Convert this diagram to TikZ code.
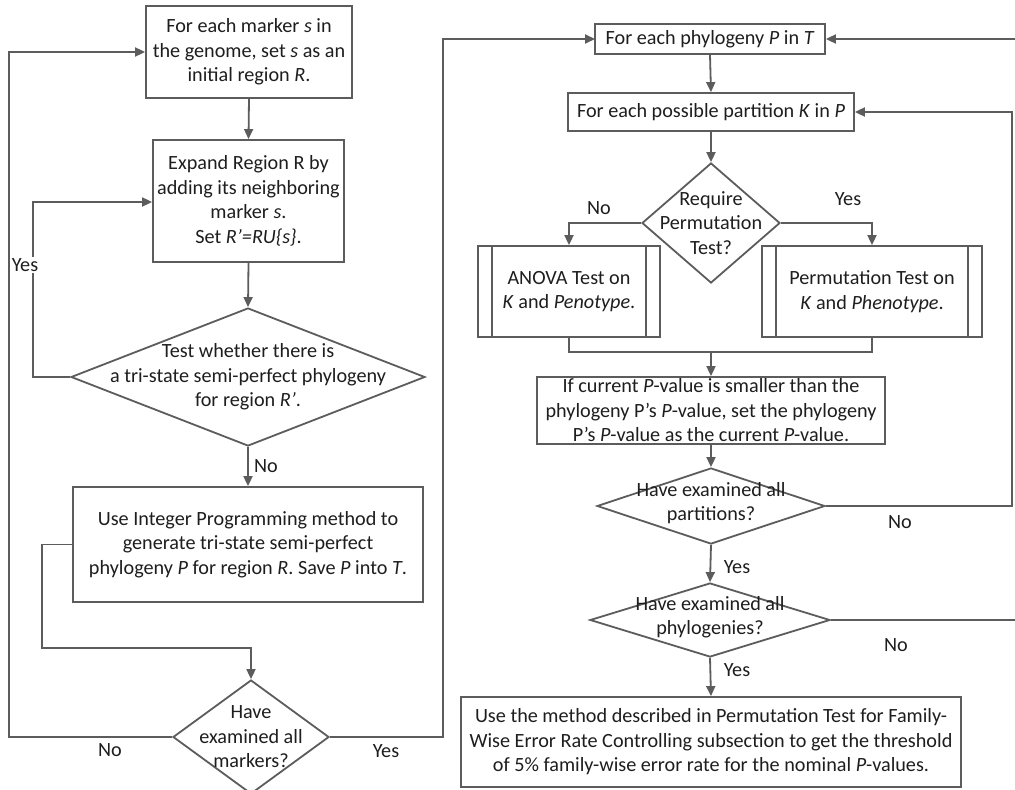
\documentclass[tikz,border=0pt]{standalone}
\usepackage{fontspec}
\setmainfont{Carlito}
\usetikzlibrary{arrows.meta,shapes.geometric,calc}
\definecolor{ln}{HTML}{5C5C5C}
\definecolor{tx}{HTML}{1E1E1E}
\begin{document}
\begin{tikzpicture}[x=1pt,y=-1pt,
  every node/.style={font=\fontsize{20.2}{24.5}\selectfont, text=tx},
  box/.style={draw=ln, line width=1.8pt, rectangle, inner sep=0pt, align=center},
  dia/.style={draw=ln, line width=1.8pt, diamond, inner sep=0pt},
  dtext/.style={inner sep=0pt, align=center},
  lab/.style={inner sep=1pt},
  conn/.style={draw=ln, line width=1.8pt},
  arr/.style={conn, -{Triangle[length=10pt,width=9pt]}}
]
\useasboundingbox (0,0) rectangle (1015,790);
\fill[white] (0,0) rectangle (1015,790);

% ---------------- left column ----------------
\node[box, minimum width=206, minimum height=92] (b1) at (249,52)
  {For each marker \textit{s} in\\the genome, set \textit{s} as an\\initial region \textit{R}.};
\node[box, minimum width=191, minimum height=122] (b2) at (248.5,201)
  {Expand Region R by\\adding its neighboring\\marker \textit{s}.\\Set \textit{R’=RU\{s\}}.};
\node[dia, minimum width=354, minimum height=138] (d1) at (248,377) {};
\node[dtext] (d1t) at (d1.center)
  {Test whether there is\\a tri-state semi-perfect phylogeny\\for region \textit{R’}.};
\node[box, minimum width=350, minimum height=115] (b3) at (248,544.5)
  {Use Integer Programming method to\\generate tri-state semi-perfect\\phylogeny \textit{P} for region \textit{R}. Save \textit{P} into \textit{T}.};
\node[dia, minimum width=156, minimum height=114] (d2) at (251,737) {};
\node[dtext] (d2t) at (d2.center) {Have\\examined all\\markers?};

\coordinate (j1) at (42,648);
\coordinate (j2) at (9,52);
\coordinate (j3) at (443,39);
\coordinate (jy) at (33,202);

\draw[arr] (b1.south) -- (b2.north);
\draw[arr] (b2.south) -- (d1.north);
\draw[arr] (d1.west) -| (jy) -- (jy -| b2.west);
\node[lab, fill=white] (ly1) at (25,265) {Yes};
\draw[arr] (d1.south) -- (b3.north);
\node[lab] (ln1) at (266,466) {No};
\draw[arr] (b3.west) -| (j1) -| (d2.north);
\draw[arr] (d2.west) -| (j2) -- (b1.west |- j2);
\node[lab] (ln2) at (110,750) {No};
\draw[arr] (d2.east) -| (j3) -- (595,39);
\node[lab] (ly2) at (386,751) {Yes};

% ---------------- right column ----------------
\node[box, minimum width=230, minimum height=30] (r1) at (710,39)
  {For each phylogeny \textit{P} in \textit{T}};
\node[box, minimum width=286, minimum height=38] (r2) at (711,112)
  {For each possible partition \textit{K} in \textit{P}};
\node[dia, minimum width=138, minimum height=120] (d3) at (711,223) {};
\node[dtext] (d3t) at (d3.center) {Require\\Permutation\\Test?};
\node[box, minimum width=182, minimum height=91] (a1) at (569,291.5)
  {ANOVA Test on\\\textit{K} and \textit{Penotype}.};
\node[box, minimum width=220, minimum height=91] (a2) at (872,291.5)
  {Permutation Test on\\\textit{K} and \textit{Phenotype}.};
\foreach \n in {a1,a2}{
  \draw[conn] ([xshift=15pt]\n.north west) -- ([xshift=15pt]\n.south west);
  \draw[conn] ([xshift=-15pt]\n.north east) -- ([xshift=-15pt]\n.south east);
}
\node[box, minimum width=348, minimum height=67] (pv) at (711,410.5)
  {If current \textit{P}-value is smaller than the\\phylogeny P’s \textit{P}-value, set the phylogeny\\P’s \textit{P}-value as the current \textit{P}-value.};
\node[dia, minimum width=228, minimum height=76] (d4) at (711,506) {};
\node[dtext] (d4t) at (711,503) {Have examined all\\partitions?};
\node[dia, minimum width=240, minimum height=74] (d5) at (710,620) {};
\node[dtext] (d5t) at (710,617) {Have examined all\\phylogenies?};
\node[box, minimum width=500, minimum height=90] (fin) at (711,742)
  {Use the method described in Permutation Test for Family-\\Wise Error Rate Controlling subsection to get the threshold\\of 5\% family-wise error rate for the nominal \textit{P}-values.};

\coordinate (m) at (711,352);
\coordinate (j4) at (1012,112);
\coordinate (j5) at (1017,39);

\draw[arr] (r1.south) -- (r2.north);
\draw[arr] (r2.south) -- (d3.north);
\draw[arr] (d3.west) -| (a1.north);
\draw[arr] (d3.east) -| (a2.north);
\node[lab] (ln3) at (599,208) {No};
\node[lab] (ly3) at (848,199) {Yes};
\draw[conn] (a1.south) |- (m);
\draw[conn] (a2.south) |- (m);
\draw[arr] (m) -- (pv.north);
\draw[arr] (pv.south) -- (d4.north);
\draw[arr] (d4.east) -| (j4) -- (r2.east);
\node[lab] (ln4) at (900,522) {No};
\draw[arr] (d4.south) -- (d5.north);
\node[lab] (ly4) at (737,567) {Yes};
\draw[arr] (d5.east) -| (j5) -- (r1.east);
\node[lab] (ln5) at (896,645) {No};
\draw[arr] (d5.south) -- (fin.north);
\node[lab] (ly5) at (737,670) {Yes};
\end{tikzpicture}
\end{document}
